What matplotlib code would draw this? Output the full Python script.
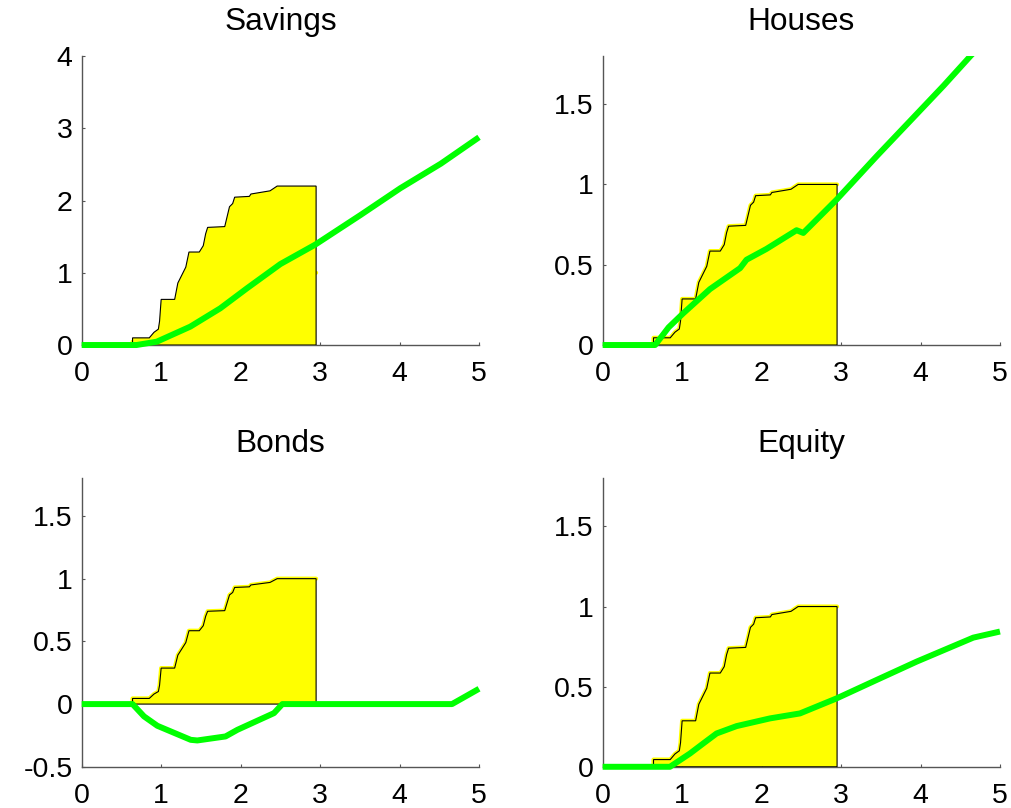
import matplotlib
matplotlib.use("Agg")
from matplotlib import pyplot as plt
from matplotlib.patches import Rectangle

plt.rcParams['font.family'] = ['Liberation Sans', 'DejaVu Sans']
plt.rcParams['axes.unicode_minus'] = False

# panel names
titles = ['Savings', 'Houses', 'Bonds', 'Equity']

# empirical distribution (shaded area), same shape in every panel
cdf_x = [0.64, 0.64, 0.85, 0.91, 0.965, 0.98, 1.0, 1.17, 1.21, 1.31, 1.35, 1.48,
         1.53, 1.56, 1.585, 1.80, 1.86, 1.90, 1.925, 2.11, 2.13, 2.37, 2.46, 2.95]
cdf_y = [0, 0.045, 0.045, 0.08, 0.10, 0.15, 0.287, 0.287, 0.39, 0.49, 0.585, 0.585,
         0.625, 0.70, 0.74, 0.745, 0.87, 0.89, 0.93, 0.935, 0.95, 0.97, 1.0, 1.0]
cdf_scale = [2.2, 1.0, 1.0, 1.0]

# policy functions (green lines)
savings_x = [0, 0.69, 0.945, 1.366, 1.744, 2.08, 2.5, 2.94, 3.51, 4.01, 4.52, 5.0]
savings_y = [0, 0, 0.046, 0.254, 0.508, 0.785, 1.12, 1.39, 1.80, 2.17, 2.51, 2.875]

houses_x = [0, 0.66, 0.83, 1.015, 1.35, 1.73, 1.81, 2.06, 2.44, 2.525, 2.945,
            3.45, 3.95, 4.29, 4.64, 4.75]
houses_y = [0, 0, 0.11, 0.198, 0.348, 0.479, 0.531, 0.598, 0.715, 0.698, 0.906,
            1.177, 1.4375, 1.615, 1.806, 1.86]

bonds_x = [0, 0.64, 0.784, 0.952, 1.372, 1.455, 1.81, 1.96, 2.42, 2.525, 4.66, 5.0]
bonds_y = [0, 0, -0.098, -0.173, -0.285, -0.29, -0.258, -0.205, -0.072, 0, 0, 0.122]

equity_x = [0, 0.847, 1.099, 1.267, 1.434, 1.686, 2.106, 2.483, 2.945, 3.448,
            3.95, 4.664, 5.0]
equity_y = [0, 0, 0.083, 0.146, 0.208, 0.254, 0.302, 0.333, 0.427, 0.542,
            0.656, 0.806, 0.844]

lines_x = [savings_x, houses_x, bonds_x, equity_x]
lines_y = [savings_y, houses_y, bonds_y, equity_y]

# axis limits and ticks
x_ticks = [0, 1, 2, 3, 4, 5]
y_limits = [(0, 4), (0, 1.8), (-0.5, 1.8), (0, 1.8)]
y_ticks = [[0, 1, 2, 3, 4],
           [0, 0.5, 1, 1.5],
           [-0.5, 0, 0.5, 1, 1.5],
           [0, 0.5, 1, 1.5]]

fig = plt.figure(figsize=(10.11, 8.08), dpi=100)
positions = [[0.0808, 0.573, 0.393, 0.3577],
             [0.5961, 0.573, 0.393, 0.3577],
             [0.0808, 0.051, 0.393, 0.357],
             [0.5961, 0.051, 0.393, 0.357]]

axis_col = '#555555'

for i in range(4):
    ax = fig.add_axes(positions[i])

    # thick yellow trace of the distribution, then the filled area on top
    ax.plot(cdf_x, cdf_y, color='#ffff00', lw=3.0, solid_capstyle='round',
            solid_joinstyle='round', zorder=1)
    fx = cdf_x + [cdf_x[-1]]
    fy = [v * cdf_scale[i] for v in cdf_y] + [0]
    ax.fill(fx, fy, facecolor='#ffff00', edgecolor='black', lw=0.8, zorder=2)

    # green line, clipped only at the top of the axes
    ln, = ax.plot(lines_x[i], lines_y[i], color='#00ff00', lw=4.3,
                  solid_capstyle='butt', solid_joinstyle='round', zorder=3)
    clip = Rectangle((-0.05, -0.05), 1.1, 1.05, transform=ax.transAxes)
    ln.set_clip_path(clip)

    ax.set_xlim(0, 5)
    ax.set_ylim(*y_limits[i])
    ax.set_xticks(x_ticks)
    ax.set_xticklabels(['%g' % t for t in x_ticks])
    ax.set_yticks(y_ticks[i])
    ax.set_yticklabels(['%g' % t for t in y_ticks[i]])

    ax.spines['top'].set_visible(False)
    ax.spines['right'].set_visible(False)
    for s in ['left', 'bottom']:
        ax.spines[s].set_color(axis_col)
        ax.spines[s].set_linewidth(1.0)
        ax.spines[s].set_zorder(0.5)
    ax.tick_params(axis='both', direction='in', length=2.5, width=0.8,
                   color=axis_col, labelsize=20.5, labelcolor='black')
    ax.tick_params(axis='x', pad=11.5)
    ax.tick_params(axis='y', pad=6.5)
    ax.set_title(titles[i], fontsize=22.8, pad=19)

plt.savefig("out.png", dpi=100)
plt.close()
